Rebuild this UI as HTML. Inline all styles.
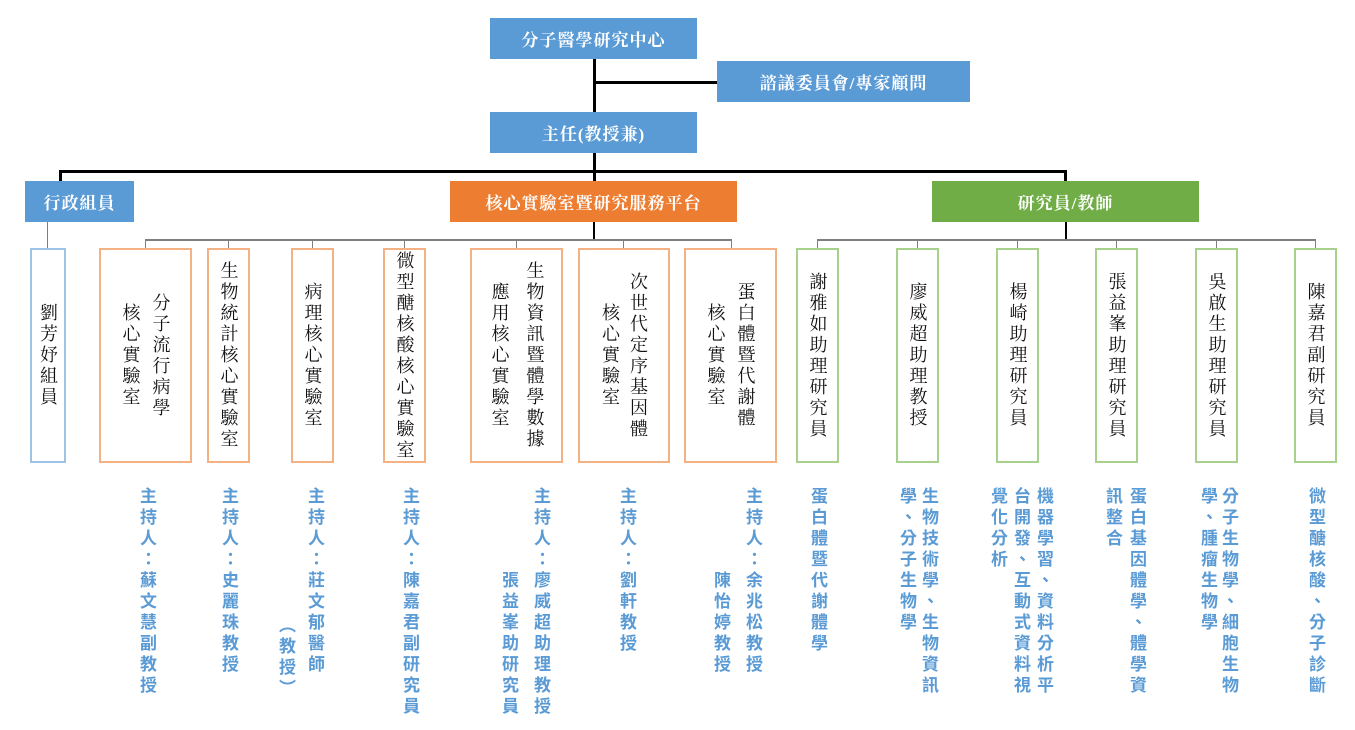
<!DOCTYPE html>
<html><head><meta charset="utf-8"><style>
body{margin:0;width:1355px;height:730px;background:#fff;position:relative;overflow:hidden;font-family:"Liberation Serif","Noto Serif CJK SC","Noto Serif CJK SC",serif;}
.a{position:absolute;}
.h{position:absolute;color:#fff;font-weight:bold;font-size:17px;display:flex;align-items:center;justify-content:center;letter-spacing:1px;}
.l{position:absolute;background:#000;}
.g{position:absolute;background:#7f7f7f;}
.b{position:absolute;top:248px;height:211px;border:2px solid #F4B183;background:#fff;display:flex;align-items:center;justify-content:center;}
.b span{writing-mode:vertical-rl;font-size:18px;line-height:30px;letter-spacing:3px;text-align:center;color:#111;}
.gr{border-color:#A9D18E;}
.bl{border-color:#9DC3E6;}
.t{position:absolute;top:487px;writing-mode:vertical-rl;font-size:17px;letter-spacing:4px;color:#5B9BD5;font-weight:bold;font-family:"Liberation Sans","Noto Sans CJK TC",sans-serif;width:22px;line-height:22px;}
</style></head><body>
<div class="h" style="left:490px;top:18px;width:207px;height:41px;background:#5B9BD5">分子醫學研究中心</div>
<div class="h" style="left:717px;top:61px;width:253px;height:41px;background:#5B9BD5">諮議委員會/專家顧問</div>
<div class="h" style="left:490px;top:112px;width:207px;height:41px;background:#5B9BD5">主任(教授兼)</div>
<div class="l" style="left:593px;top:59px;width:3px;height:53px"></div>
<div class="l" style="left:593px;top:81px;width:124px;height:3px"></div>
<div class="l" style="left:593px;top:153px;width:3px;height:28px"></div>
<div class="l" style="left:59px;top:170px;width:1008px;height:3px"></div>
<div class="l" style="left:59px;top:170px;width:3px;height:11px"></div>
<div class="l" style="left:1064px;top:170px;width:3px;height:11px"></div>
<div class="h" style="left:25px;top:181px;width:109px;height:41px;background:#5B9BD5">行政組員</div>
<div class="h" style="left:450px;top:181px;width:287px;height:41px;background:#ED7D31">核心實驗室暨研究服務平台</div>
<div class="h" style="left:932px;top:181px;width:267px;height:41px;background:#70AD47">研究員/教師</div>
<div class="g" style="left:47px;top:222px;width:1px;height:26px"></div>
<div class="l" style="left:593px;top:222px;width:2px;height:19px"></div>
<div class="g" style="left:145px;top:239px;width:587px;height:2px"></div>
<div class="l" style="left:1065px;top:222px;width:2px;height:19px"></div>
<div class="g" style="left:817px;top:239px;width:499px;height:2px"></div>
<div class="g" style="left:145px;top:240px;width:1px;height:8px"></div>
<div class="g" style="left:228px;top:240px;width:1px;height:8px"></div>
<div class="g" style="left:312px;top:240px;width:1px;height:8px"></div>
<div class="g" style="left:404px;top:240px;width:1px;height:8px"></div>
<div class="g" style="left:516px;top:240px;width:1px;height:8px"></div>
<div class="g" style="left:623px;top:240px;width:1px;height:8px"></div>
<div class="g" style="left:731px;top:240px;width:1px;height:8px"></div>
<div class="g" style="left:817px;top:240px;width:1px;height:8px"></div>
<div class="g" style="left:917px;top:240px;width:1px;height:8px"></div>
<div class="g" style="left:1017px;top:240px;width:1px;height:8px"></div>
<div class="g" style="left:1116px;top:240px;width:1px;height:8px"></div>
<div class="g" style="left:1216px;top:240px;width:1px;height:8px"></div>
<div class="g" style="left:1315px;top:240px;width:1px;height:8px"></div>

<div class="b bl" style="left:30px;width:32px"><span>劉芳妤組員</span></div>
<div class="b" style="left:99px;width:89px"><span>分子流行病學<br>核心實驗室</span></div>
<div class="b" style="left:207px;width:39px"><span>生物統計核心實驗室</span></div>
<div class="b" style="left:291px;width:39px"><span>病理核心實驗室</span></div>
<div class="b" style="left:383px;width:39px"><span>微型醣核酸核心實驗室</span></div>
<div class="b" style="left:470px;width:89px"><span style="line-height:35px">生物資訊暨體學數據<br>應用核心實驗室</span></div>
<div class="b" style="left:578px;width:88px"><span style="line-height:28px">次世代定序基因體<br>核心實驗室</span></div>
<div class="b" style="left:684px;width:89px"><span style="line-height:30px">蛋白體暨代謝體<br>核心實驗室</span></div>
<div class="b gr" style="left:796px;width:39px"><span>謝雅如助理研究員</span></div>
<div class="b gr" style="left:896px;width:39px"><span>廖威超助理教授</span></div>
<div class="b gr" style="left:996px;width:39px"><span>楊崎助理研究員</span></div>
<div class="b gr" style="left:1095px;width:39px"><span>張益峯助理研究員</span></div>
<div class="b gr" style="left:1195px;width:39px"><span>吳啟生助理研究員</span></div>
<div class="b gr" style="left:1294px;width:39px"><span>陳嘉君副研究員</span></div>

<div class="t" style="left:135px">主持人：蘇文慧副教授</div>
<div class="t" style="left:217px">主持人：史麗珠教授</div>
<div class="t" style="left:303px">主持人：莊文郁醫師</div>
<div class="t" style="left:274px;top:616px">（教授）</div>
<div class="t" style="left:398px">主持人：陳嘉君副研究員</div>
<div class="t" style="left:529px">主持人：廖威超助理教授</div>
<div class="t" style="left:497px;top:571px">張益峯助研究員</div>
<div class="t" style="left:615px">主持人：劉軒教授</div>
<div class="t" style="left:741px">主持人：余兆松教授</div>
<div class="t" style="left:709px;top:571px">陳怡婷教授</div>
<div class="t" style="left:806px">蛋白體暨代謝體學</div>
<div class="t" style="left:917px">生物技術學、生物資訊</div>
<div class="t" style="left:895px">學、分子生物學</div>
<div class="t" style="left:1032px">機器學習、資料分析平</div>
<div class="t" style="left:1009px">台開發、互動式資料視</div>
<div class="t" style="left:986px">覺化分析</div>
<div class="t" style="left:1125px">蛋白基因體學、體學資</div>
<div class="t" style="left:1101px">訊整合</div>
<div class="t" style="left:1217px">分子生物學、細胞生物</div>
<div class="t" style="left:1196px">學、腫瘤生物學</div>
<div class="t" style="left:1304px">微型醣核酸、分子診斷</div>
</body></html>
